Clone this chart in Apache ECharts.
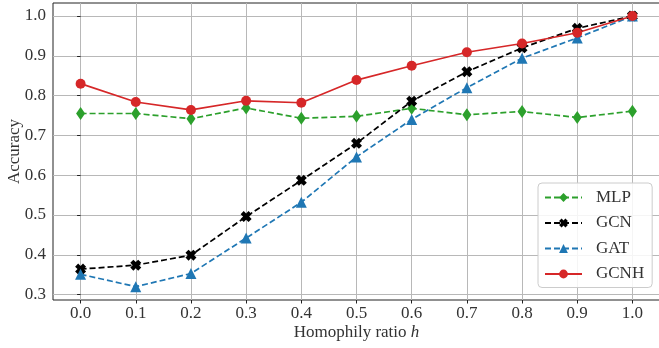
<!DOCTYPE html>
<html>
<head>
<meta charset="utf-8">
<script src="https://cdn.jsdelivr.net/npm/echarts@6/dist/echarts.min.js"></script>
<style>html,body{margin:0;padding:0;background:#fff}#c{width:659px;height:348px}</style>
</head>
<body>
<div id="c"></div>
<script>
const homophily = [0.0, 0.1, 0.2, 0.3, 0.4, 0.5, 0.6, 0.7, 0.8, 0.9, 1.0];
const mlp  = [0.755, 0.755, 0.742, 0.769, 0.743, 0.748, 0.768, 0.752, 0.760, 0.745, 0.761];
const gcn  = [0.364, 0.374, 0.399, 0.496, 0.587, 0.680, 0.786, 0.860, 0.920, 0.969, 1.000];
const gat  = [0.351, 0.320, 0.353, 0.442, 0.532, 0.646, 0.740, 0.820, 0.894, 0.945, 1.000];
const gcnh = [0.830, 0.784, 0.764, 0.787, 0.782, 0.839, 0.875, 0.909, 0.931, 0.958, 1.000];
const xTicks = [0.0, 0.1, 0.2, 0.3, 0.4, 0.5, 0.6, 0.7, 0.8, 0.9, 1.0];
const yTicks = [0.3, 0.4, 0.5, 0.6, 0.7, 0.8, 0.9, 1.0];

const pairs = ys => homophily.map((x, i) => [x, ys[i]]);
const FONT = '"Liberation Serif", "DejaVu Serif", serif';
const xPath = 'path://M0,2.8 L2.8,0 L5,2.2 L7.2,0 L10,2.8 L7.8,5 L10,7.2 L7.2,10 L5,7.8 L2.8,10 L0,7.2 L2.2,5 Z';

const chart = echarts.init(document.getElementById('c'), null, {renderer: 'canvas'});
chart.setOption({
  animation: false,
  backgroundColor: '#fff',
  grid: {left: 53, top: 3, width: 607, height: 297, outerBoundsMode: 'none', containLabel: false,
         show: true, borderColor: '#222', borderWidth: 1, backgroundColor: 'transparent'},
  xAxis: {
    type: 'value', min: -0.05, max: 1.05,
    name: '{n|Homophily ratio }{i|h}', nameLocation: 'middle', nameGap: 24, nameMoveOverlap: false,
    nameTextStyle: {rich: {n: {fontFamily: FONT, fontSize: 17, color: '#333'}, i: {fontFamily: FONT, fontSize: 17, fontStyle: 'italic', color: '#333'}}},
    axisLine: {show: false},
    axisTick: {show: true, length: 3.5, lineStyle: {color: '#222'}, customValues: xTicks},
    axisLabel: {customValues: xTicks, formatter: v => v.toFixed(1), fontFamily: FONT, fontSize: 17, color: '#333', margin: 5},
    splitLine: {show: true, lineStyle: {color: '#b8b8b8', width: 1}}
  },
  yAxis: {
    type: 'value', min: 0.2864, max: 1.0327,
    name: 'Accuracy', nameLocation: 'middle', nameGap: 29.5, nameMoveOverlap: false,
    nameTextStyle: {fontFamily: FONT, fontSize: 17, color: '#333'},
    axisLine: {show: false},
    axisTick: {show: true, length: 3.5, lineStyle: {color: '#222'}, customValues: yTicks},
    axisLabel: {customValues: yTicks, formatter: v => v.toFixed(1), fontFamily: FONT, fontSize: 17, color: '#333', margin: 7},
    splitLine: {show: true, lineStyle: {color: '#b8b8b8', width: 1}}
  },
  legend: {
    orient: 'vertical', left: 538, top: 183,
    data: ['MLP', 'GCN', 'GAT', 'GCNH'],
    itemWidth: 37, itemHeight: 11, itemGap: 8.5,
    padding: [6, 8, 5, 6],
    backgroundColor: 'rgba(255,255,255,0.85)', borderColor: '#cccccc', borderWidth: 1, borderRadius: 4,
    textStyle: {fontFamily: FONT, fontSize: 17, color: '#333', padding: [0, 0, 0, 9]}
  },
  series: [
    {name: 'MLP', type: 'line', data: pairs(mlp), color: '#2ca02c', symbol: 'diamond', symbolSize: [9, 13],
     lineStyle: {width: 1.7, type: [6, 3]}, itemStyle: {color: '#2ca02c'}},
    {name: 'GCN', type: 'line', data: pairs(gcn), color: '#000000', symbol: xPath, symbolSize: 11,
     lineStyle: {width: 1.7, type: [6, 3]}, itemStyle: {color: '#000000'}},
    {name: 'GAT', type: 'line', data: pairs(gat), color: '#1f77b4', symbol: 'triangle', symbolSize: 11,
     lineStyle: {width: 1.7, type: [6, 3]}, itemStyle: {color: '#1f77b4'}},
    {name: 'GCNH', type: 'line', data: pairs(gcnh), color: '#d62728', symbol: 'circle', symbolSize: 10,
     lineStyle: {width: 1.7}, itemStyle: {color: '#d62728'}}
  ]
});
</script>
</body>
</html>
